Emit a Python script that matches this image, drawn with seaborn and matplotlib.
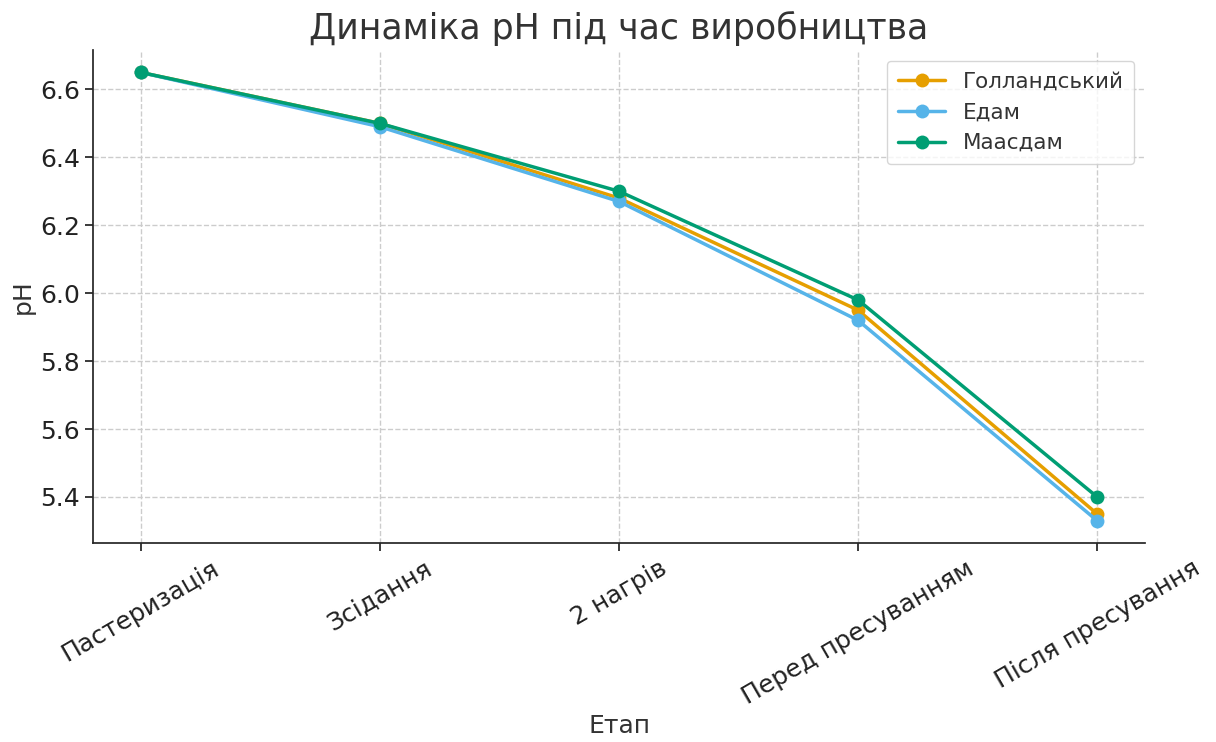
import pandas as pd
import seaborn as sns
import matplotlib.pyplot as plt

stages = ["Пастеризація", "Зсідання", "2 нагрів", "Перед пресуванням", "Після пресування"]
gollandskyi = [6.65, 6.50, 6.28, 5.95, 5.35]
edam = [6.65, 6.49, 6.27, 5.92, 5.33]
maasdam = [6.65, 6.50, 6.30, 5.98, 5.40]
cheeses = ["Голландський", "Едам", "Маасдам"]
colors = ["#E69F00", "#56B4E9", "#009E73"]

df = pd.DataFrame({
    "Етап": stages * 3,
    "pH": gollandskyi + edam + maasdam,
    "Сир": [c for c in cheeses for _ in stages],
})

sns.set_theme(style="ticks")
plt.rcParams['font.family'] = ['DejaVu Sans']
plt.rcParams['text.color'] = '#333333'

fig, ax = plt.subplots(figsize=(12.16, 7.42), dpi=100)
sns.lineplot(data=df, x="Етап", y="pH", hue="Сир", palette=colors, marker="o",
             markersize=10, markeredgewidth=0, linewidth=2.5, sort=False, ax=ax)

ax.grid(True, linestyle="--", color="#cccccc", linewidth=1)
sns.despine(ax=ax)
ax.set_title("Динаміка pH під час виробництва", fontsize=25, color="#333333", pad=8)
ax.set_xlabel("Етап", fontsize=18, color="#333333")
ax.set_ylabel("pH", fontsize=18, color="#333333")
ax.tick_params(axis="both", labelsize=18, colors="#222222", length=6)
plt.setp(ax.get_xticklabels(), rotation=30, ha="center")
ax.legend(title=None, fontsize=15.5, loc="upper right", labelcolor="#333333",
          borderpad=0.5, handlelength=2.2)

fig.subplots_adjust(left=0.0765, right=0.9416, top=0.9326, bottom=0.268)
fig.savefig("out.png", dpi=100)
